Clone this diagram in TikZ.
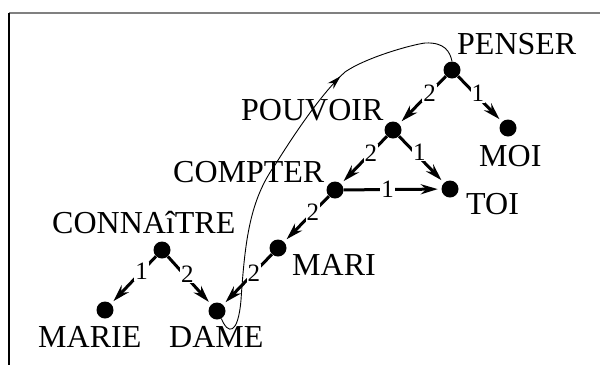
\documentclass[tikz,border=0pt]{standalone}
\usepackage{fontspec}
\setmainfont{Liberation Serif}
\usepackage{tikz}
\usetikzlibrary{arrows.meta,positioning,decorations.markings}
\tikzset{
  vertex/.style={circle, fill=black, inner sep=0pt, minimum size=17pt},
  wordlabel/.style={inner sep=0pt, anchor=base west, font=\fontsize{32pt}{34pt}\selectfont},
  edgelabel/.style={fill=white, inner sep=1pt, font=\fontsize{25pt}{27pt}\selectfont},
  depedge/.style={-{Stealth[length=17pt,width=10pt]}, line width=3pt, shorten >=3.5pt},
  linkcurve/.style={line width=0.9pt, postaction={decorate},
    decoration={markings, mark=at position 0.7 with {\arrow{Stealth[length=14pt,width=8pt]}}}}
}
\begin{document}
\begin{tikzpicture}[x=1pt, y=-1pt]
  \useasboundingbox (0,0) rectangle (600,365);
  % frame
  \draw[gray, line width=1.6pt] (9,13) -- (600,13);
  \draw[black, line width=1.2pt] (9,13) -- (9,365);
  % vertices
  \node[vertex] (penser) at (452,70) {};
  \node[vertex] (pouvoir) at (393,130) {};
  \node[vertex] (moi) at (508,128) {};
  \node[vertex] (compter) at (335,190) {};
  \node[vertex] (toi) at (450,189) {};
  \node[vertex] (mari) at (278,248) {};
  \node[vertex] (connaitre) at (162,250) {};
  \node[vertex] (marie) at (105,310) {};
  \node[vertex] (dame) at (217,311) {};
  % words
  \node[wordlabel] (penserW) at (457,54) {PENSER};
  \node[wordlabel] (pouvoirW) at (241,120) {POUVOIR};
  \node[wordlabel] (moiW) at (479,166) {MOI};
  \node[wordlabel] (compterW) at (173,182) {COMPTER};
  \node[wordlabel] (toiW) at (466,214) {TOI};
  \node[wordlabel] (mariW) at (292,275) {MARI};
  \node[wordlabel] (connaitreW) at (52,233) {CONNAîTRE};
  \node[wordlabel] (marieW) at (38,347) {MARIE};
  \node[wordlabel] (dameW) at (169,347) {DAME};
  % dependencies
  \draw[depedge] (penser) -- node[edgelabel, pos=.35] {2} (pouvoir);
  \draw[depedge] (penser) -- node[edgelabel, pos=.45, yshift=3pt] {1} (moi);
  \draw[depedge] (pouvoir) -- node[edgelabel, pos=.35] {2} (compter);
  \draw[depedge] (pouvoir) -- node[edgelabel, pos=.45, yshift=5pt] {1} (toi);
  \draw[depedge] (compter) -- node[edgelabel, pos=.45] {1} (toi);
  \draw[depedge] (compter) -- node[edgelabel, pos=.36] {2} (mari);
  \draw[depedge] (mari) -- node[edgelabel, pos=.37] {2} (dame);
  \draw[depedge] (connaitre) -- node[edgelabel, pos=.32] {1} (marie);
  \draw[depedge] (connaitre) -- node[edgelabel, pos=.45, yshift=4pt] {2} (dame);
  % long link
  \draw[linkcurve] (dame.-60) .. controls (228,335) and (238,335) .. (241,300)
    .. controls (245,240) and (250,200) .. (275,165)
    .. controls (300,125) and (325,90) .. (345,72)
    .. controls (365,58) and (410,45) .. (425,43)
    .. controls (445,42) and (450,52) .. (penser.north);
\end{tikzpicture}
\end{document}
